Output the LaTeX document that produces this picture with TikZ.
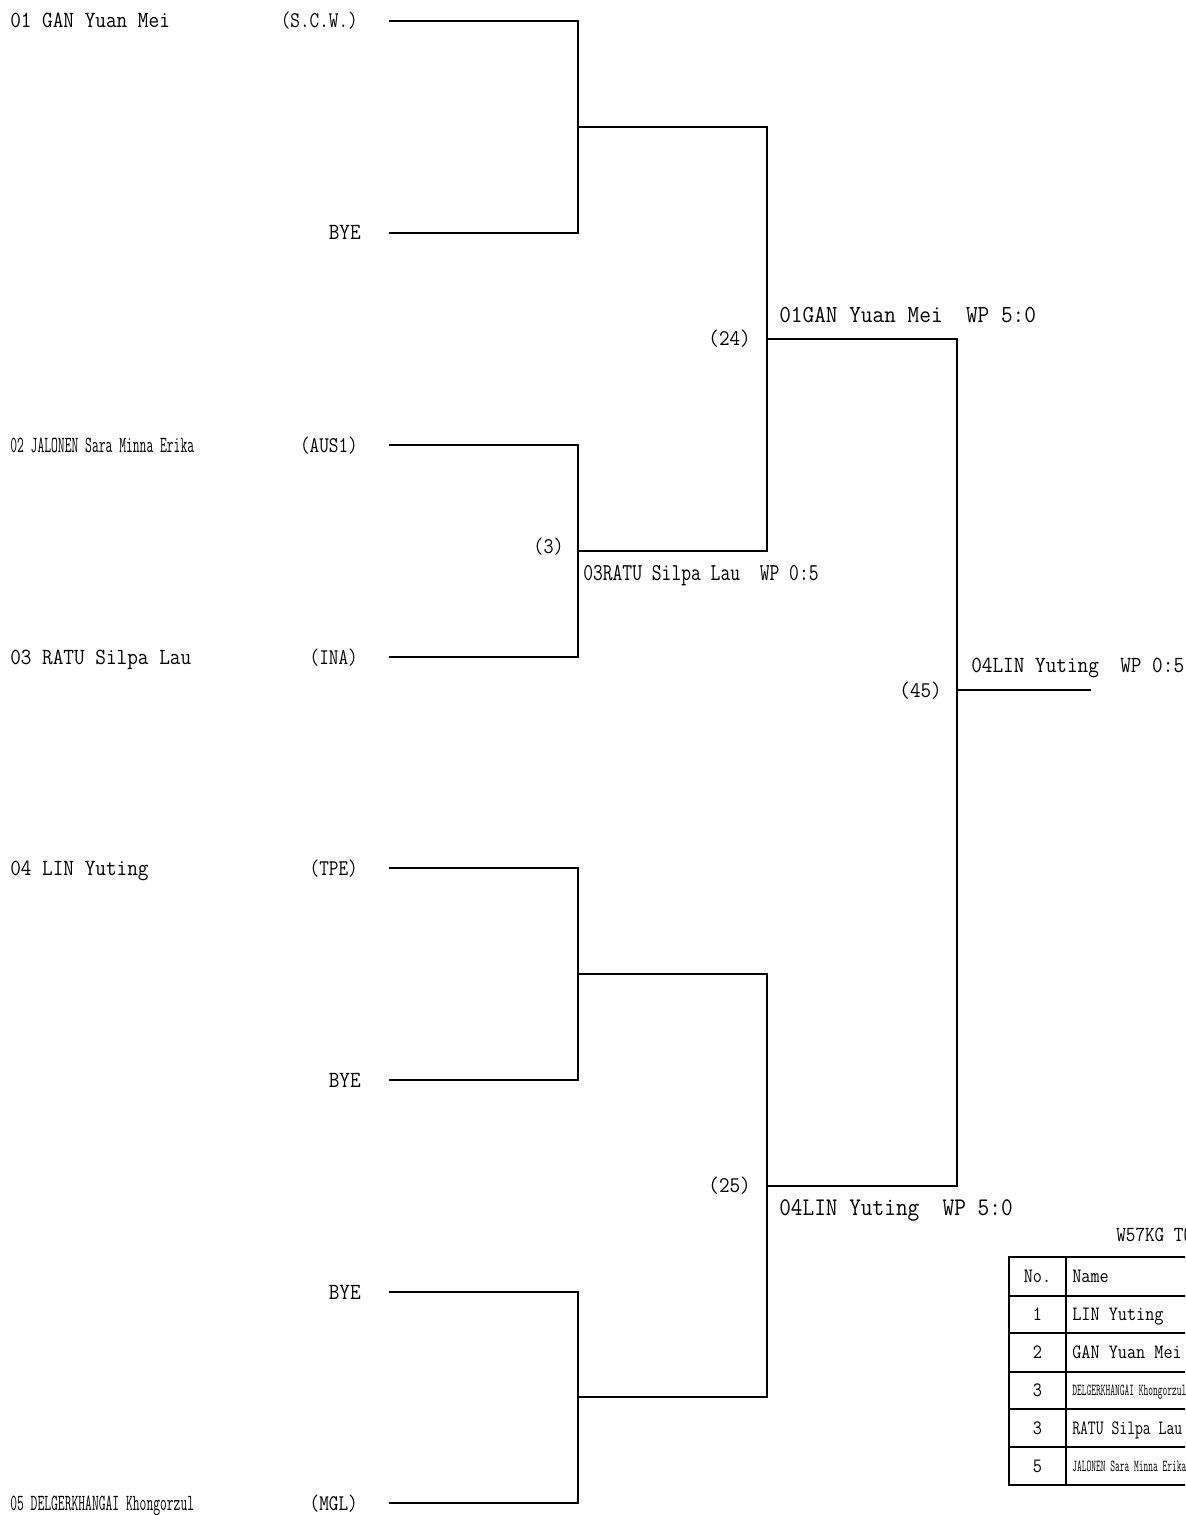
\documentclass[tikz,border=0pt]{standalone}
\usepackage{fontspec}
\usepackage{graphicx}
\newcommand{\sq}[3]{\scalebox{#1}[#2]{#3}}
\begin{document}
\begin{tikzpicture}[x=0.75pt,y=-0.75pt,
  br/.style={line width=1.5pt, line join=miter, line cap=butt},
  tb/.style={line width=1.4pt},
  tx/.style={inner sep=0pt, font=\fontsize{15.5}{18}\selectfont\ttfamily},
  ctx/.style={inner sep=0pt, font=\fontsize{14}{17}\selectfont\ttfamily},
  wtx/.style={inner sep=0pt, font=\fontsize{17}{20}\selectfont\ttfamily},
  stx/.style={inner sep=0pt, font=\fontsize{13.3}{16}\selectfont\ttfamily}]
\useasboundingbox (0,0) rectangle (1185,1515);
\clip (0,0) rectangle (1185,1515);

% ---------- left labels ----------
\node[tx, anchor=base west] (n01) at (10,28) {\sq{1}{1.12}{01 GAN Yuan Mei}};
\node[tx, anchor=base west] (n02) at (10,452) {\sq{0.64}{1.12}{02 JALONEN Sara Minna Erika}};
\node[tx, anchor=base west] (n03) at (10,664) {\sq{1}{1.12}{03 RATU Silpa Lau}};
\node[tx, anchor=base west] (n04) at (10,875) {\sq{1}{1.12}{04 LIN Yuting}};
\node[tx, anchor=base west] (n05) at (10,1510) {\sq{0.64}{1.12}{05 DELGERKHANGAI Khongorzul}};

\node[ctx, anchor=base east] (c01) at (358,28) {\sq{1}{1.2}{(S.C.W.)}};
\node[ctx, anchor=base east] (c02) at (358,452) {\sq{1}{1.2}{(AUS1)}};
\node[ctx, anchor=base east] (c03) at (358,664) {\sq{1}{1.2}{(INA)}};
\node[ctx, anchor=base east] (c04) at (358,875) {\sq{1}{1.2}{(TPE)}};
\node[ctx, anchor=base east] (c05) at (358,1510) {\sq{1}{1.2}{(MGL)}};
\node[tx, anchor=base east] (bye1) at (361,240) {\sq{1}{1.12}{BYE}};
\node[tx, anchor=base east] (bye2) at (361,1087) {\sq{1}{1.12}{BYE}};
\node[tx, anchor=base east] (bye3) at (361,1299) {\sq{1}{1.12}{BYE}};

% ---------- bracket coordinates ----------
\coordinate (a1) at (389,21);   \coordinate (b1) at (578,21);
\coordinate (a2) at (389,233);  \coordinate (b2) at (578,233);
\coordinate (a3) at (389,445);  \coordinate (b3) at (578,445);
\coordinate (a4) at (389,657);  \coordinate (b4) at (578,657);
\coordinate (a5) at (389,868);  \coordinate (b5) at (578,868);
\coordinate (a6) at (389,1080); \coordinate (b6) at (578,1080);
\coordinate (a7) at (389,1292); \coordinate (b7) at (578,1292);
\coordinate (a8) at (389,1503); \coordinate (b8) at (578,1503);

\coordinate (m1) at (578,127);  \coordinate (k1) at (767,127);
\coordinate (m2) at (578,551);  \coordinate (k2) at (767,551);
\coordinate (m3) at (578,974);  \coordinate (k3) at (767,974);
\coordinate (m4) at (578,1397); \coordinate (k4) at (767,1397);

\coordinate (q1) at (767,339);  \coordinate (r1) at (957,339);
\coordinate (q2) at (767,1186); \coordinate (r2) at (957,1186);

\coordinate (f0) at (957,690);  \coordinate (f1) at (1091,690);

% ---------- bracket lines ----------
\draw[br] (a1) -- (b1) -- (b2) -- (a2);
\draw[br] (a3) -- (b3) -- (b4) -- (a4);
\draw[br] (a5) -- (b5) -- (b6) -- (a6);
\draw[br] (a7) -- (b7) -- (b8) -- (a8);
\draw[br] (m1) -- (k1) -- (k2) -- (m2);
\draw[br] (m3) -- (k3) -- (k4) -- (m4);
\draw[br] (q1) -- (r1) -- (r2) -- (q2);
\draw[br] (f0) -- (f1);

% ---------- match numbers ----------
\node[ctx, anchor=base east] (g3) at (564,553) {\sq{1.05}{1.2}{(3)}};
\node[ctx, anchor=base east] (g24) at (751,346) {\sq{1.1}{1.2}{(24)}};
\node[ctx, anchor=base east] (g25) at (751,1192) {\sq{1.1}{1.2}{(25)}};
\node[ctx, anchor=base east] (g45) at (942,697) {\sq{1.1}{1.2}{(45)}};

% ---------- winners ----------
\node[wtx, anchor=base west] (w24) at (779,323) {\sq{1}{1.08}{01GAN Yuan Mei\ \ WP 5:0}};
\node[ctx, anchor=base west] (w3) at (583,580) {\sq{1.02}{1.3}{03RATU Silpa Lau\ \ WP 0:5}};
\node[tx, anchor=base west] (w45) at (971,672) {\sq{1.0}{1.12}{04LIN Yuting\ \ WP 0:5}};
\node[wtx, anchor=base west] (w25) at (779,1215) {\sq{1}{1.12}{04LIN Yuting\ \ WP 5:0}};

% ---------- result table ----------
\node[ctx, anchor=base west] (ttl) at (1116,1241) {\sq{1}{1.15}{W57KG TOP}};
\draw[tb] (1009,1257) rectangle (1400,1485);
\draw[tb] (1066,1257) -- (1066,1485);
\draw[tb] (1009,1296) -- (1400,1296);
\draw[tb] (1009,1333) -- (1400,1333);
\draw[tb] (1009,1372) -- (1400,1372);
\draw[tb] (1009,1409) -- (1400,1409);
\draw[tb] (1009,1447) -- (1400,1447);

\node[stx, anchor=base] (h1) at (1037.5,1282) {\sq{1}{1.15}{No.}};
\node[stx, anchor=base west] (h2) at (1072,1282) {\sq{1}{1.15}{Name}};
\node[stx, anchor=base] (p1) at (1037.5,1320) {\sq{1}{1.15}{1}};
\node[stx, anchor=base west] (t1) at (1072,1320) {\sq{1}{1.15}{LIN Yuting}};
\node[stx, anchor=base] (p2) at (1037.5,1358) {\sq{1}{1.15}{2}};
\node[stx, anchor=base west] (t2) at (1072,1358) {\sq{1}{1.15}{GAN Yuan Mei}};
\node[stx, anchor=base] (p3) at (1037.5,1396) {\sq{1}{1.15}{3}};
\node[stx, anchor=base west] (t3) at (1072,1395) {\sq{0.52}{0.95}{DELGERKHANGAI Khongorzul}};
\node[stx, anchor=base] (p4) at (1037.5,1434) {\sq{1}{1.15}{3}};
\node[stx, anchor=base west] (t4) at (1072,1434) {\sq{0.86}{1.15}{RATU Silpa Lau}};
\node[stx, anchor=base] (p5) at (1037.5,1472) {\sq{1}{1.15}{5}};
\node[stx, anchor=base west] (t5) at (1072,1471) {\sq{0.52}{0.95}{JALONEN Sara Minna Erika}};
\end{tikzpicture}
\end{document}
